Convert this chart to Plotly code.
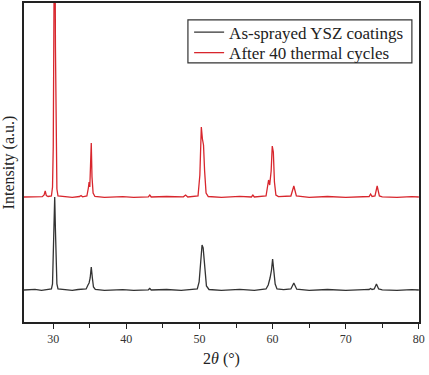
import plotly.graph_objects as go

# --- data (intensity above each baseline, arbitrary units) ---
two_theta_as = [26, 27.5, 28.4, 29.2, 29.75, 29.9, 30.0, 30.1, 30.2, 30.3, 30.4, 30.5, 30.65,
                31.5, 32.6, 33.4, 34.5, 34.75, 34.9, 35.05, 35.2, 35.35, 35.5, 35.75,
                37.0, 39.5, 41.0, 43.0, 43.2, 43.4, 45.5, 47.5, 49.7, 49.95, 50.15, 50.35,
                50.5, 50.7, 50.95, 51.3, 53.0, 55.5, 57.5, 59.1, 59.4, 59.65, 59.85, 60.0,
                60.15, 60.35, 60.6, 61.5, 62.5, 62.9, 63.3, 65.0, 67.5, 70.0, 72.5, 73.2,
                73.4, 73.6, 73.9, 74.2, 74.5, 75.0, 77.0, 79.0, 80]
intensity_as = [0, 0.6, -0.4, 0.5, 1, 6, 30, 60, 93, 60, 28, 6, 1,
                0.3, -0.4, 0.5, 1, 5, 7, 12, 23, 12, 3, 0.5,
                -0.3, 0.4, -0.4, 0.2, 1.5, 0, 0.5, -0.3, 1, 8, 32, 45,
                42, 22, 4, 0.5, -0.3, 0.6, -0.4, 1, 5, 12, 20, 31,
                22, 6, 1, 0.4, 1, 7, 0.8, -0.3, 0.5, -0.4, 0.3, 0.5,
                1.5, 0.5, 1, 6, 1, 0.2, -0.4, 0.4, 0]

two_theta_tc = [26, 27.5, 28.5, 28.75, 28.9, 29.05, 29.3, 29.75, 29.9, 30.0, 30.1, 30.2, 30.3,
                30.4, 30.5, 30.65, 31.5, 32.6, 33.6, 33.8, 34.0, 34.6, 34.8, 34.9, 35.0,
                35.1, 35.2, 35.3, 35.45, 35.7, 37.0, 39.5, 41.0, 43.0, 43.2, 43.4, 45.5,
                47.8, 48.1, 48.4, 49.8, 50.05, 50.25, 50.4, 50.55, 50.7, 50.9, 51.2, 53.0,
                55.5, 57.1, 57.3, 57.5, 59.1, 59.45, 59.6, 59.8, 59.95, 60.1, 60.25, 60.45,
                60.8, 62.5, 62.9, 63.25, 65.0, 67.5, 70.0, 72.5, 73.2, 73.4, 73.6, 74.0,
                74.3, 74.6, 75.0, 77.0, 79.0, 80]
intensity_tc = [0, 0.5, 0.3, 2, 6, 1.5, 0.5, 1, 10, 50, 150, 330, 150,
                45, 8, 1, 0.3, -0.4, 0.5, 1.5, 0.2, 1, 9, 15, 10,
                26, 54, 20, 4, 0.5, -0.3, 0.4, -0.4, 0.2, 2, 0, 0.5,
                0.2, 2, 0, 1, 22, 70, 58, 52, 26, 4, 0.5, -0.3,
                0.6, 0, 2, 0, 1, 17, 12, 26, 51, 45, 15, 2,
                0.4, 1, 11, 1, -0.3, 0.5, -0.4, 0.3, 0.5, 3, 0.5, 1,
                11, 1, 0.2, -0.4, 0.4, 0]

series_names = ["As-sprayed YSZ coatings", "After 40 thermal cycles"]
x_tick_values = [30, 40, 50, 60, 70, 80]
x_tick_labels = ["30", "40", "50", "60", "70", "80"]

# --- styling / layout ---
stack_offset = 93  # vertical shift of the cycled pattern
black = "#333333"
red = "#d8262d"
serif = "Liberation Serif, Times New Roman, serif"

fig = go.Figure()
fig.add_trace(go.Scatter(x=two_theta_as, y=intensity_as, mode="lines",
                         name=series_names[0], legend="legend",
                         line=dict(color=black, width=1.3)))
fig.add_trace(go.Scatter(x=two_theta_tc, y=[v + stack_offset for v in intensity_tc],
                         mode="lines", name=series_names[1], legend="legend2",
                         line=dict(color=red, width=1.3)))

legend_style = dict(xanchor="left", yanchor="middle", borderwidth=0,
                    bgcolor="rgba(0,0,0,0)", itemwidth=30,
                    font=dict(family=serif, size=17, color="#222222"))

fig.update_layout(
    width=429, height=375,
    margin=dict(l=24, r=10, t=3, b=53, autoexpand=False),
    paper_bgcolor="white", plot_bgcolor="white",
    font=dict(family=serif, color="#222222"),
    showlegend=True,
    legend=dict(x=0.418, y=0.907, **legend_style),
    legend2=dict(x=0.418, y=0.843, **legend_style),
    shapes=[dict(type="rect", xref="paper", yref="paper",
                 x0=0.415, x1=0.982, y0=0.812, y1=0.947,
                 line=dict(color="#333333", width=1.2))],
)
fig.update_xaxes(
    range=[26, 80.02], tickvals=x_tick_values, ticktext=x_tick_labels,
    ticks="outside", ticklen=5, tickwidth=1.3, tickcolor="#222222",
    minor=dict(dtick=5, tick0=0, ticks="outside", ticklen=4, tickwidth=1.3, tickcolor="#222222"),
    showline=True, linecolor="#222222", linewidth=1.8, mirror=True,
    showgrid=False, zeroline=False, automargin=False,
    tickfont=dict(family=serif, size=12, color="#333333"),
    title=dict(text="2<i>θ</i> (°)", font=dict(family=serif, size=16, color="#222222"), standoff=8),
)
fig.update_yaxes(
    range=[-32, 287], showticklabels=False, ticks="",
    showline=True, linecolor="#222222", linewidth=1.8, mirror=True,
    showgrid=False, zeroline=False, automargin=False,
    title=dict(text="Intensity (a.u.)", font=dict(family=serif, size=16, color="#222222"), standoff=5),
)

fig.write_html("out.html", config={"displayModeBar": False},
               post_script="document.body.style.margin='0';")
